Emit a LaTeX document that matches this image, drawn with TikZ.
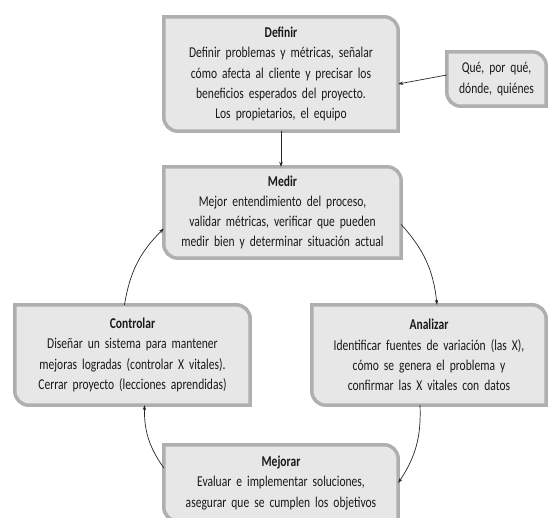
\documentclass[tikz,border=0pt]{standalone}
\usepackage{fontspec}
\setmainfont{Carlito}[FakeStretch=0.77,WordSpace=0.8]
\usepackage{tikz}
\usetikzlibrary{arrows.meta,positioning,backgrounds,calc}
\definecolor{stagefill}{RGB}{231,231,231}
\definecolor{stageline}{RGB}{175,175,175}
\newlength{\crad}
\setlength{\crad}{14pt}
% frame with rounded NE and SW corners
\newcommand{\stageframe}[1]{%
  \draw[frame] (#1.north west) -- ([xshift=-\crad]#1.north east)
    arc[start angle=90,end angle=0,radius=\crad] -- (#1.south east)
    -- ([xshift=\crad]#1.south west)
    arc[start angle=270,end angle=180,radius=\crad] -- cycle;}

\begin{document}
\begin{tikzpicture}[x=1pt,y=1pt,
    stage/.style 2 args={inner xsep=6pt,inner ysep=0pt,align=center,
      text width=#1,minimum height=#2,
      font=\fontsize{15}{20.2}\selectfont,text=black!90},
    frame/.style={draw=stageline,line width=3.5pt,fill=stagefill},
    link/.style={draw=black!85,line width=0.7pt,-{Stealth[length=5pt,width=3.5pt]}}]
    \useasboundingbox (0,0) rectangle (550,-518);

    \node[stage={222pt}{114pt}] (definir) at (281,-74) {%
        \textbf{Definir}\\
        Definir problemas y métricas, señalar\\
        cómo afecta al cliente y precisar los\\
        beneficios esperados del proyecto.\\
        Los propietarios, el equipo};
    \node[stage={87pt}{54pt}] (que) at (496.5,-79) {%
        Qué, por qué,\\
        dónde, quiénes};
    \node[stage={225pt}{91pt}] (medir) at (282.5,-212.5) {%
        \textbf{Medir}\\
        Mejor entendimiento del proceso,\\
        validar métricas, verificar que pueden\\
        medir bien y determinar situación actual};
    \node[stage={223pt}{100pt}] (controlar) at (132.5,-355) {%
        \textbf{Controlar}\\
        Diseñar un sistema para mantener\\
        mejoras logradas (controlar X vitales).\\
        Cerrar proyecto (lecciones aprendidas)};
    \node[stage={222pt}{100pt}] (analizar) at (429,-355) {%
        \textbf{Analizar}\\
        Identificar fuentes de variación (las X),\\
        cómo se genera el problema y\\
        confirmar las X vitales con datos};
    \node[stage={222pt}{76pt}] (mejorar) at (281,-483) {%
        \textbf{Mejorar}\\
        Evaluar e implementar soluciones,\\
        asegurar que se cumplen los objetivos};

    \begin{scope}[on background layer]
        \stageframe{definir}
        \stageframe{que}
        \stageframe{medir}
        \stageframe{controlar}
        \stageframe{analizar}
        \stageframe{mejorar}
    \end{scope}

    \draw[link] ([yshift=4pt]que.west) -- ([yshift=-10pt]definir.east);
    \draw[link] (definir.south) -- (definir.south |- medir.north);
    \draw[link] ([yshift=-12pt]medir.east) to[bend left=18] ([xshift=8pt]analizar.north);
    \draw[link] ([xshift=-9pt]analizar.south) to[bend left=18] (mejorar.east);
    \draw[link] ([yshift=15pt]mejorar.west) to[bend left=18] ([xshift=12pt]controlar.south);
    \draw[link] ([xshift=-8pt]controlar.north) to[bend left=18] ([yshift=-16pt]medir.west);
\end{tikzpicture}
\end{document}
